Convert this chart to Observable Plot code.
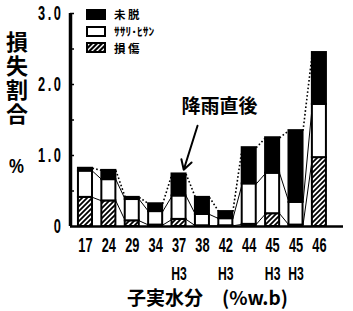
<!DOCTYPE html>
<html><head><meta charset="utf-8">
<script src="https://cdn.jsdelivr.net/npm/d3@7"></script>
<script src="https://cdn.jsdelivr.net/npm/@observablehq/plot@0.6"></script>
<style>
body{margin:0;background:#fff;}
#wrap{position:relative;width:353px;height:311px;overflow:hidden;font-family:"Noto Sans CJK JP",sans-serif;color:#000;}
#wrap > svg{position:absolute;left:0;top:0;}
.ov{position:absolute;white-space:nowrap;font-weight:bold;line-height:1;}
.ytitle{left:6px;top:31px;font-size:22px;writing-mode:vertical-rl;letter-spacing:2px;}
.ypct{left:9px;top:155px;font-size:21px;font-family:"Liberation Sans",sans-serif;transform:scaleX(0.8);transform-origin:left top;}
.xtitle{left:127px;top:287px;font-size:19px;height:19px;}
.leg{position:absolute;left:86px;top:6px;font-weight:bold;font-size:11.5px;line-height:12px;}
.leg .row{display:flex;align-items:center;height:16.7px;}
.leg span{display:block;height:12px;line-height:12px;white-space:pre;}
.leg svg{position:static;margin-right:8px;display:block;}
</style></head><body><div id="wrap"></div>
<script>
// --- data ---
const categories = ["17","24","29","34","37","38","42","44","45","45","46"];
const subLabels  = ["","","","","H3","","H3","","H3","H3",""];
const damaged    = [0.41,0.36,0.08,0.02,0.10,0.01,0.01,0.03,0.18,0.02,0.97]; // 損傷 (hatched)
const sasari     = [0.37,0.30,0.30,0.19,0.33,0.16,0.10,0.57,0.57,0.32,0.75]; // ササリ・ヒサン (white)
const unthreshed = [0.04,0.13,0.03,0.11,0.31,0.24,0.10,0.51,0.50,1.01,0.73]; // 未脱 (black)
const yTickValues = [0,1,2,3];
const yMinorTicks = [0.5,1,1.5,2,2.5,3];
const legendLabels = ["未 脱","ｻｻﾘ･ﾋｻﾝ","損 傷"];
const note = [{i:5.73, v:1.68, text:"降雨直後"}];
const noteArrow = [{i1:4.79, v1:1.42, i2:4.2, v2:0.8}];

const idx = d3.range(categories.length);
const lvl1 = idx.map(i => damaged[i]);
const lvl2 = idx.map(i => damaged[i] + sasari[i]);
const lvl3 = idx.map(i => damaged[i] + sasari[i] + unthreshed[i]);
const hw = 0.3;
const xMin = -0.64;

const latin = '"Liberation Sans",sans-serif';

const plot = Plot.plot({
  width: 353, height: 311,
  marginLeft: 70, marginRight: 10, marginTop: 13, marginBottom: 85,
  x: {type:"linear", domain:[xMin, 11.03], axis:null},
  y: {domain:[0,3], axis:null},
  style: {fontFamily: latin, background:"white", color:"black"},
  marks: [
    // connectors
    Plot.link(idx.slice(0,-1), {x1:i=>i+hw, y1:i=>lvl3[i], x2:i=>i+1-hw, y2:i=>lvl3[i+1], stroke:"black", strokeWidth:1.6, strokeDasharray:"1.6 2.2"}),
    Plot.link(idx.slice(0,-1), {x1:i=>i+hw, y1:i=>lvl2[i], x2:i=>i+1-hw, y2:i=>lvl2[i+1], stroke:"black", strokeWidth:1}),
    Plot.link(idx.slice(0,-1), {x1:i=>i+hw, y1:i=>lvl1[i], x2:i=>i+1-hw, y2:i=>lvl1[i+1], stroke:"black", strokeWidth:1}),
    // stacked bars
    Plot.rect(idx, {x1:i=>i-hw, x2:i=>i+hw, y1:0, y2:i=>lvl1[i], fill:"url(#hatch)", stroke:"black", strokeWidth:2}),
    Plot.rect(idx, {x1:i=>i-hw, x2:i=>i+hw, y1:i=>lvl1[i], y2:i=>lvl2[i], fill:"white", stroke:"black", strokeWidth:2}),
    Plot.rect(idx, {x1:i=>i-hw, x2:i=>i+hw, y1:i=>lvl2[i], y2:i=>lvl3[i], fill:"black", stroke:"black", strokeWidth:2}),
    // axes
    Plot.ruleX([xMin], {stroke:"black", strokeWidth:3.5}),
    Plot.ruleY([0], {stroke:"black", strokeWidth:2.5}),
    Plot.axisY({ticks:yMinorTicks, tickSize:4, dx:4, tickFormat:()=>"", strokeWidth:1.5, label:null}),
    Plot.axisY({ticks:yTickValues, tickSize:0, tickPadding:7, tickFormat:d=>d===0?"0":d.toFixed(1), fontSize:20, label:null}),
    Plot.axisX(idx, {tickSize:0, tickPadding:11, tickFormat:i=>categories[i], fontSize:20, label:null}),
    Plot.axisX(idx, {tickSize:0, tickPadding:40, tickFormat:i=>subLabels[i], fontSize:19, label:null}),
    // annotation
    Plot.text(note, {x:"i", y:"v", text:"text", fontSize:19, fontWeight:"bold", fontFamily:"Noto Sans CJK JP"}),
    Plot.arrow(noteArrow, {x1:"i1", y1:"v1", x2:"i2", y2:"v2", stroke:"black", strokeWidth:2, headLength:8})
  ]
});

// hatch pattern
const defs = d3.select(plot).insert("defs", ":first-child");
const pat = defs.append("pattern").attr("id","hatch").attr("patternUnits","userSpaceOnUse").attr("width",5).attr("height",5);
pat.append("rect").attr("width",5).attr("height",5).attr("fill","white");
pat.append("path").attr("d","M-1,1 l2,-2 M0,5 l5,-5 M4,6 l2,-2").attr("stroke","black").attr("stroke-width",1.8);
d3.select(plot).selectAll("text").attr("font-weight","bold");
// condensed digits: squeeze tick labels horizontally
d3.select(plot).selectAll("[aria-label='y-axis tick label'] text, [aria-label='x-axis tick label'] text")
  .each(function(){ const t = this.getAttribute("transform") || ""; this.setAttribute("transform", t + " scale(0.64,1)"); });
d3.select(plot).selectAll("[aria-label='y-axis tick label'] text").attr("letter-spacing","4px");

const wrap = document.getElementById("wrap");
wrap.appendChild(plot);

// overlay texts
wrap.insertAdjacentHTML("beforeend", `
<div class="ov ytitle">損失割合</div>
<div class="ov ypct">%</div>
<div class="ov xtitle">子実水分　(%w.b)</div>
`);
const leg = document.createElement("div");
leg.className = "leg";
const swFills = ["black","white","url(#hatchL)"];
legendLabels.forEach((lab, k) => {
  const row = document.createElement("div");
  row.className = "row";
  row.innerHTML = `<svg width="20" height="11"><defs><pattern id="hatchL${k}" patternUnits="userSpaceOnUse" width="5" height="5"><rect width="5" height="5" fill="black"/><path d="M-1,1 l2,-2 M0,5 l5,-5 M4,6 l2,-2" stroke="white" stroke-width="1.4"/></pattern></defs><rect x="1" y="1" width="18" height="9" fill="${k===2?`url(#hatchL${k})`:swFills[k]}" stroke="black" stroke-width="2"/></svg><span>${lab}</span>`;
  leg.appendChild(row);
});
wrap.appendChild(leg);
</script></body></html>
